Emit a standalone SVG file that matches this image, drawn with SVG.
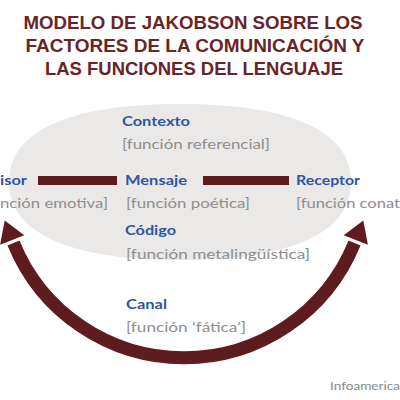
<svg xmlns="http://www.w3.org/2000/svg" width="400" height="400" viewBox="0 0 400 400">
<style>
.title{font-family:"Liberation Sans",Arial,sans-serif;font-weight:700;font-size:19px;fill:#6a2328;text-anchor:middle}
.lbl{font-family:Lato,"Open Sans","Liberation Sans",sans-serif;font-weight:700;font-size:14px;fill:#2e55a6}
.sub{font-family:Lato,"Open Sans","Liberation Sans",sans-serif;font-size:14px;fill:#8e8e8e}
.credit{font-family:Lato,"Open Sans","Liberation Sans",sans-serif;font-size:11px;fill:#8a8a8a}
.conn{fill:#5e1c1f}
</style>
<rect width="400" height="400" fill="#ffffff"/>
<g id="title">
<text class="title" x="193" y="29" textLength="339" lengthAdjust="spacingAndGlyphs">MODELO DE JAKOBSON SOBRE LOS</text>
<text class="title" x="195" y="52" textLength="339" lengthAdjust="spacingAndGlyphs">FACTORES DE LA COMUNICACIÓN Y</text>
<text class="title" x="194" y="75" textLength="298" lengthAdjust="spacingAndGlyphs">LAS FUNCIONES DEL LENGUAJE</text>
</g>
<path id="field" d="M9,182 C9,131 69,104 180,104 C291,104 351,131 351,182 C351,233 291,260 180,260 C69,260 9,233 9,182 Z" fill="#ebe9e7"/>
<g id="connectors">
<rect class="conn" x="38" y="176" width="79" height="9"/>
<rect class="conn" x="203" y="176" width="86" height="9"/>
<path d="M13.5,243 A184,184 0 0 0 354.5,243" fill="none" stroke="#5e1c1f" stroke-width="13"/>
<polygon class="conn" points="4.7,220.4 24.3,235.3 0.1,244.7"/>
<polygon class="conn" points="363.3,220.4 343.7,235.3 367.9,244.7"/>
</g>
<g id="contexto">
<text class="lbl" x="122" y="126" textLength="68" lengthAdjust="spacingAndGlyphs">Contexto</text>
<text class="sub" x="122" y="149" textLength="148" lengthAdjust="spacingAndGlyphs">[función referencial]</text>
</g>
<g id="emisor">
<text class="lbl" x="0" y="185" textLength="27" lengthAdjust="spacingAndGlyphs">isor</text>
<text class="sub" x="0" y="208" textLength="108" lengthAdjust="spacingAndGlyphs">nción emotiva]</text>
</g>
<g id="mensaje">
<text class="lbl" x="125" y="185" textLength="62" lengthAdjust="spacingAndGlyphs">Mensaje</text>
<text class="sub" x="126" y="208" textLength="124" lengthAdjust="spacingAndGlyphs">[función poética]</text>
</g>
<g id="receptor">
<text class="lbl" x="296" y="185" textLength="64" lengthAdjust="spacingAndGlyphs">Receptor</text>
<text class="sub" x="296" y="208" textLength="104" lengthAdjust="spacingAndGlyphs">[función conat</text>
</g>
<g id="codigo">
<text class="lbl" x="125" y="235" textLength="51" lengthAdjust="spacingAndGlyphs">Código</text>
<text class="sub" x="126" y="259" textLength="184" lengthAdjust="spacingAndGlyphs">[función metalingüística]</text>
</g>
<g id="canal">
<text class="lbl" x="126" y="309" textLength="41" lengthAdjust="spacingAndGlyphs">Canal</text>
<text class="sub" x="126" y="332" textLength="120" lengthAdjust="spacingAndGlyphs">[función ‘fática’]</text>
</g>
<g id="credit">
<text class="credit" x="330" y="390" textLength="70" lengthAdjust="spacingAndGlyphs">Infoamerica</text>
</g>
</svg>
